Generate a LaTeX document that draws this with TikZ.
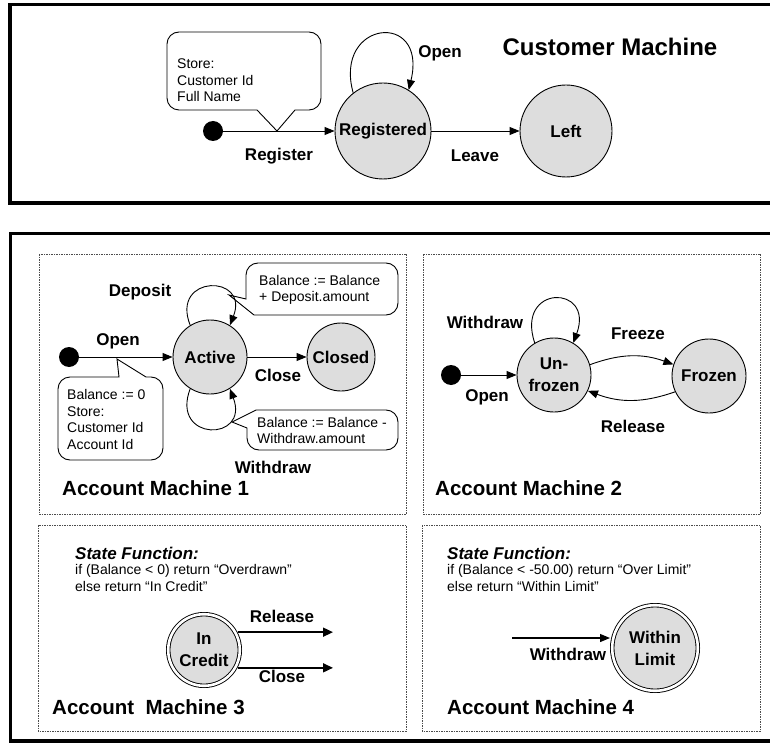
\documentclass[tikz,border=0pt]{standalone}
\usepackage{fontspec}
\setmainfont{Liberation Sans}
\usetikzlibrary{arrows.meta}
\definecolor{stfill}{RGB}{221,221,221}
\begin{document}
\begin{tikzpicture}[x=1pt,y=-1pt,
  statenode/.style={circle, draw, line width=0.9pt, fill=stfill, inner sep=0pt, font=\fontsize{17}{22}\selectfont\bfseries, align=center},
  dbl/.style={statenode, double, double distance=2.6pt, outer sep=2.2pt},
  dotnode/.style={circle, fill=black, inner sep=0pt, minimum size=20pt},
  lbl/.style={font=\fontsize{17}{20}\selectfont\bfseries, inner sep=0pt},
  mtitle/.style={font=\fontsize{20.5}{24}\selectfont\bfseries, inner sep=0pt, anchor=west},
  sftitle/.style={font=\fontsize{17}{20}\selectfont\bfseries\itshape, inner sep=0pt, anchor=west},
  ctext/.style={font=\fontsize{14}{16.5}\selectfont, align=left, inner sep=0pt, anchor=west},
  sftext/.style={font=\fontsize{14}{17}\selectfont, align=left, inner sep=0pt, anchor=west},
  arr/.style={line width=0.9pt, -{Triangle[length=10pt,width=8pt]}},
  arrthick/.style={line width=1.6pt, -{Triangle[length=10pt,width=9pt]}},
  arrmid/.style={line width=1.2pt, -{Triangle[length=10pt,width=8pt]}},
  calloutbox/.style={draw, line width=0.9pt, fill=white},
  outerpanel/.style={draw, line width=3.5pt},
  subpanel/.style={draw=black!70, line width=0.8pt, dash pattern=on 1.5pt off 1pt}]
\useasboundingbox (0,0) rectangle (770,743);
\fill[white] (0,0) rectangle (770,743);

% outer panels
\draw[outerpanel] (10,4.5) rectangle (780,203);
\draw[outerpanel] (10.5,233.5) rectangle (780,741);

% sub panels
\draw[subpanel] (39,254) rectangle (406,514);
\draw[subpanel] (423,254) rectangle (760,514);
\draw[subpanel] (38,525) rectangle (406,731);
\draw[subpanel] (422,525) rectangle (760,731);

% ---------------- Customer machine ----------------
\draw[calloutbox] (277,131) -- (295,110) [rounded corners=12pt] -- (321,110) -- (321,32) -- (167,32) -- (167,110) [sharp corners] -- (257,110) -- cycle;
\node[ctext] (ct0) at (177,80.5) {Store:\\Customer Id\\Full Name};
\node[dotnode] (d0) at (213,131) {};
\node[statenode, minimum size=96pt] (reg) at (383,131) {Registered};
\node[statenode, minimum size=92pt] (lft) at (566,131) {Left};
\draw[arr] (d0) -- (reg);
\draw[arr] (reg) -- (lft);
\draw[arr] (reg.128) .. controls (333,20) and (428,10) .. (reg.58);
\node[lbl] (lreg) at (279,156) {Register};
\node[lbl] (llea) at (475,156) {Leave};
\node[lbl] (lop0) at (440,53) {Open};
\node[font=\fontsize{24}{28}\selectfont\bfseries, inner sep=0pt] (tcust) at (610,47) {Customer Machine};

% ---------------- Account machine 1 ----------------
\draw[calloutbox] (229,295) -- (246,299) [rounded corners=12pt] -- (246,263) -- (398,263) -- (398,315) [sharp corners] -- (254,315) -- cycle;
\node[ctext] (ct1) at (259,290) {Balance := Balance\\+ Deposit.amount};
\draw[calloutbox] (232,422) -- (256,410) [rounded corners=12pt] -- (398,410) -- (398,450) -- (247,450) [sharp corners] -- (247,428) -- cycle;
\node[ctext] (ct2) at (257,430.5) {Balance := Balance -\\Withdraw.amount};
\draw[calloutbox] (117,359) -- (146,377) [rounded corners=12pt] -- (163,377) -- (163,460) -- (58,460) -- (58,377) [sharp corners] -- (119,377) -- cycle;
\node[ctext] (ct3) at (67,419.5) {Balance := 0\\Store:\\Customer Id\\Account Id};

\node[dotnode] (d1) at (69,357) {};
\node[statenode, minimum size=74pt] (act) at (210,357) {Active};
\node[statenode, minimum size=68pt] (cls) at (341,357) {Closed};
\draw[arr] (d1) -- (act);
\draw[arr] (act) -- (cls);
\draw[arr] (act.122) .. controls (170,274) and (250,274) .. (act.58);
\draw[arr] (act.238) .. controls (170,442) and (250,442) .. (act.302);
\node[lbl] (lop1) at (118,341) {Open};
\node[lbl] (lcl1) at (278,375) {Close};
\node[lbl] (ldep) at (140,292) {Deposit};
\node[lbl] (lwd1) at (273,467) {Withdraw};
\node[mtitle] (am1) at (62,488) {Account Machine 1};

% ---------------- Account machine 2 ----------------
\node[dotnode] (d2) at (451,375) {};
\node[statenode, minimum size=74pt] (unf) at (554,375) {Un-\\frozen};
\node[statenode, minimum size=74pt] (frz) at (709,376) {Frozen};
\draw[arr] (d2) -- (unf);
\draw[arr] (unf.121) .. controls (515,284) and (595,284) .. (unf.59);
\draw[arr] (unf.16) to[bend left=20] (frz.162);
\draw[arr] (frz.205) to[bend left=20] (unf.335);
\node[lbl] (lwd2) at (485,322) {Withdraw};
\node[lbl] (lop2) at (487,397) {Open};
\node[lbl] (lfrz) at (638,334) {Freeze};
\node[lbl] (lrel2) at (633,426) {Release};
\node[mtitle] (am2) at (435,488) {Account Machine 2};

% ---------------- Account machine 3 ----------------
\node[sftitle] (sf3) at (75,553) {State Function:};
\node[sftext] (sf3t) at (75,577.5) {if (Balance < 0) return “Overdrawn”\\else return “In Credit”};
\node[dbl, minimum size=71.6pt] (cred) at (204,650) {In\\Credit};
\coordinate (r3) at (333,632);
\draw[arrthick] (cred.28) -- (cred.28 -| r3);
\draw[arrthick] (cred.-28) -- (cred.-28 -| r3);
\node[lbl] (lrel3) at (282,616) {Release};
\node[lbl] (lcl3) at (282,676) {Close};
\node[mtitle] (am3) at (52,707) {Account~\ Machine 3};

% ---------------- Account machine 4 ----------------
\node[sftitle] (sf4) at (447,553) {State Function:};
\node[sftext] (sf4t) at (447,577.5) {if (Balance < -50.00) return “Over Limit”\\else return “Within Limit”};
\node[dbl, minimum size=85.6pt] (wl) at (655,648) {Within\\Limit};
\coordinate (w4) at (512,638);
\draw[arrmid] (w4) -- (w4 -| wl.west);
\node[lbl] (lwd4) at (568,654) {Withdraw};
\node[mtitle] (am4) at (447,707) {Account Machine 4};
\end{tikzpicture}
\end{document}
